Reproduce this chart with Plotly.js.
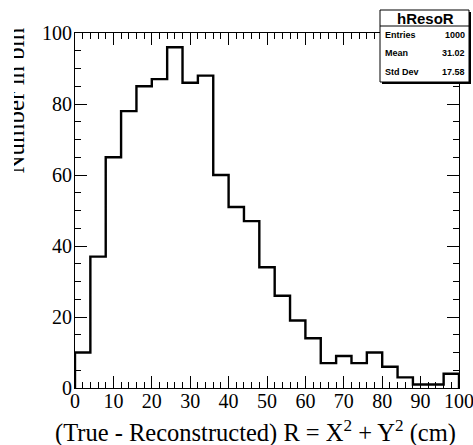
<!DOCTYPE html>
<html>
<head>
<meta charset="utf-8">
<script src="https://cdn.plot.ly/plotly-3.0.1.min.js"></script>
<style>
html,body{margin:0;padding:0;overflow:hidden;background:#fff;width:473px;height:445px;}
#plot{position:absolute;left:0;top:0;width:473px;height:445px;}
#clip{position:absolute;left:0;top:0;width:14px;height:300px;background:#fff;z-index:10;}
</style>
</head>
<body>
<div id="plot"></div>
<div id="clip"></div>
<script>
// Histogram hResoR: 25 bins of width 4 cm from 0 to 100
const binLowEdges = [0,4,8,12,16,20,24,28,32,36,40,44,48,52,56,60,64,68,72,76,80,84,88,92,96];
const binUpEdge = 100;
const counts = [10,37,65,78,85,87,96,86,88,60,51,47,34,26,19,14,7,9,7,10,6,3,1,1,4];
const xTickVals = [0,10,20,30,40,50,60,70,80,90,100];
const yTickVals = [0,20,40,60,80,100];
const statLabels = ["Entries","Mean","Std Dev"];
const statValues = ["1000","31.02","17.58"];
const histName = "hResoR";
const xTitle = "(True - Reconstructed) R = X<sup>2</sup> + Y<sup>2</sup> (cm)";
const yTitle = "Number in bin";

// step outline (ROOT-style histogram)
const sx = [binLowEdges[0]].concat(binLowEdges, [binUpEdge, binUpEdge]);
const sy = [0].concat(counts, [counts[counts.length-1], 0]);

// page-pixel -> paper helpers (plot area: x 75..459, y 33..388 on page)
const px = p => (p - 75) / 384;
const py = p => (388 - p) / 355;

const serif = "Liberation Serif, Times New Roman, serif";
const sans = "Liberation Sans, Arial, sans-serif";

const trace = {
  x: sx, y: sy, type: 'scatter', mode: 'lines',
  line: {shape: 'hv', color: '#000', width: 2.4},
  hoverinfo: 'skip', showlegend: false
};

const axisCommon = {
  showline: true, linecolor: '#000', linewidth: 1, mirror: 'ticks',
  ticks: 'inside', ticklen: 12, tickwidth: 1, tickcolor: '#000',
  showgrid: false, zeroline: false, ticklabeloverflow: 'allow',
  tickfont: {family: serif, size: 20, color: '#000'},
  fixedrange: true
};

const shapes = [
  // stats box shadow
  {type:'rect', xref:'paper', yref:'paper', x0:px(382), x1:px(471), y0:py(84), y1:py(12),
   fillcolor:'#000', line:{width:0}, layer:'above'},
  {type:'rect', xref:'paper', yref:'paper', x0:px(380), x1:px(469), y0:py(82), y1:py(10),
   fillcolor:'#fff', line:{color:'#000', width:1}, layer:'above'},
  {type:'line', xref:'paper', yref:'paper', x0:px(380), x1:px(469), y0:py(26), y1:py(26),
   line:{color:'#000', width:1}, layer:'above'}
];

const annotations = [
  {xref:'paper', yref:'paper', x:px(425), y:py(18), text:'<b>'+histName+'</b>', showarrow:false,
   xanchor:'center', yanchor:'middle', font:{family:sans, size:15, color:'#000'}},
  {xref:'paper', yref:'paper', x:px(458), y:py(431), text:xTitle, showarrow:false,
   xanchor:'right', yanchor:'middle', font:{family:serif, size:24.5, color:'#000'}},
  {xref:'paper', yref:'paper', x:px(31), y:py(100), text:yTitle, showarrow:false, textangle:-90,
   xanchor:'right', yanchor:'middle', font:{family:serif, size:25, color:'#000'}}
];
const rowY = [35, 53, 72];
for (let i = 0; i < statLabels.length; i++) {
  annotations.push({xref:'paper', yref:'paper', x:px(383), y:py(rowY[i]), text:'<b>'+statLabels[i]+'</b>',
    showarrow:false, xanchor:'left', yanchor:'middle', font:{family:sans, size:9, color:'#000'}});
  annotations.push({xref:'paper', yref:'paper', x:px(467), y:py(rowY[i]), text:'<b>'+statValues[i]+'</b>',
    showarrow:false, xanchor:'right', yanchor:'middle', font:{family:sans, size:9, color:'#000'}});
}

const layout = {
  width: 473, height: 445,
  margin: {l: 75, r: 14, t: 33, b: 57, pad: 0},
  paper_bgcolor: '#fff', plot_bgcolor: '#fff',
  xaxis: Object.assign({}, axisCommon, {
    range: [0, 100], tickvals: xTickVals, ticktext: xTickVals.map(String),
    ticklabelstandoff: -5,
    minor: {dtick: 2, ticklen: 6, tickwidth: 1, tickcolor: '#000', ticks: 'inside'}
  }),
  yaxis: Object.assign({}, axisCommon, {
    range: [0, 100], tickvals: yTickVals, ticktext: yTickVals.map(String),
    ticklabelstandoff: -2,
    minor: {dtick: 5, ticklen: 6, tickwidth: 1, tickcolor: '#000', ticks: 'inside'}
  }),
  shapes: shapes,
  annotations: annotations,
  showlegend: false
};

Plotly.newPlot('plot', [trace], layout, {displayModeBar: false, staticPlot: true});
</script>
</body>
</html>
